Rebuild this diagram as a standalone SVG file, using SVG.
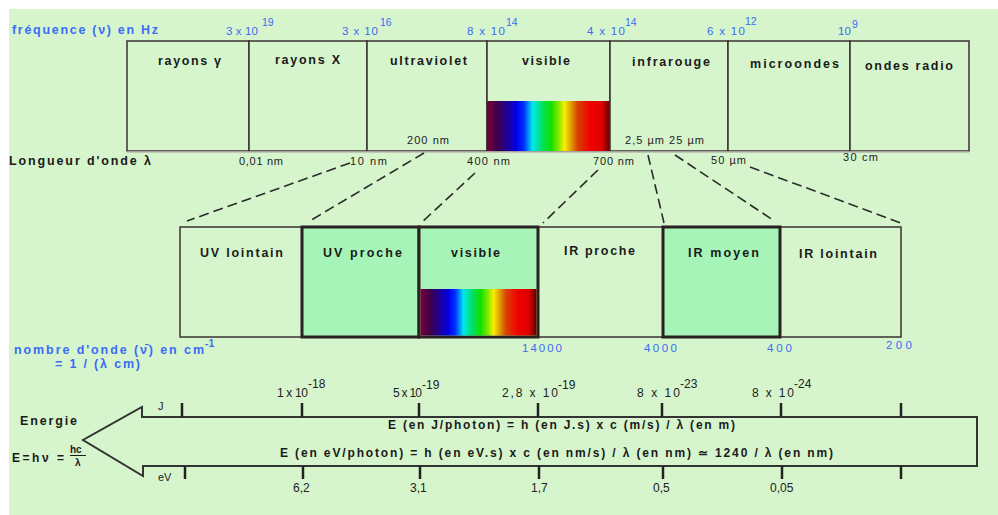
<svg xmlns="http://www.w3.org/2000/svg" width="998" height="515" viewBox="0 0 998 515">
  <defs>
    <linearGradient id="spectrum" x1="0" y1="0" x2="1" y2="0">
      <stop offset="0" stop-color="#7a0038"/>
      <stop offset="0.08" stop-color="#40004a"/>
      <stop offset="0.16" stop-color="#200090"/>
      <stop offset="0.24" stop-color="#0000e8"/>
      <stop offset="0.30" stop-color="#0030ff"/>
      <stop offset="0.37" stop-color="#00e8f0"/>
      <stop offset="0.45" stop-color="#00e060"/>
      <stop offset="0.52" stop-color="#10e000"/>
      <stop offset="0.58" stop-color="#80e800"/>
      <stop offset="0.63" stop-color="#f8f000"/>
      <stop offset="0.68" stop-color="#e0a000"/>
      <stop offset="0.74" stop-color="#d84000"/>
      <stop offset="0.84" stop-color="#f00000"/>
      <stop offset="0.93" stop-color="#e00000"/>
      <stop offset="1" stop-color="#600000"/>
    </linearGradient>
  </defs>
  <style>
    .band { fill: #d6f5cc; stroke: #3a3030; stroke-width: 1.5; }
    .sel { fill: #a6f4b8; stroke: #2a2222; stroke-width: 3; }
    .lbl { font-family: "Liberation Sans", Arial, sans-serif; font-weight: bold; font-size: 12.5px; fill: #1a1a1a; }
    .form { font-family: "Liberation Sans", Arial, sans-serif; font-weight: bold; font-size: 12px; fill: #1a1a1a; }
    .frac { font-family: "Liberation Sans", Arial, sans-serif; font-weight: bold; font-size: 10px; fill: #1a1a1a; }
    .blue { font-family: "Liberation Sans", Arial, sans-serif; font-size: 11.5px; fill: #3a6cf4; }
    .blueb { font-family: "Liberation Sans", Arial, sans-serif; font-weight: bold; font-size: 12.5px; fill: #3a6cf4; }
    .sup { font-size: 10.5px; }
    .sm { font-family: "Liberation Sans", Arial, sans-serif; font-size: 11px; fill: #222; }
    .en { font-family: "Liberation Sans", Arial, sans-serif; font-size: 12px; fill: #222; }
    .dash { fill: none; stroke: #2a2a2a; stroke-width: 1.6; stroke-dasharray: 10 5; }
    .tick { stroke: #222; stroke-width: 2.5; }
  </style>

  <!-- page background -->
  <rect x="0" y="0" width="998" height="515" fill="#ffffff"/>
  <rect x="9" y="9" width="989" height="506" fill="#d6f5cc"/>

  <!-- frequency axis -->
  <g id="frequency-axis">
    <text class="blueb" x="12" y="34" textLength="146" lengthAdjust="spacing">fréquence (ν) en Hz</text>
    <text class="blue" x="226" y="35" textLength="32" lengthAdjust="spacing">3 x 10</text>
    <text class="blue sup" x="262" y="26">19</text>
    <text class="blue" x="342" y="35" textLength="36" lengthAdjust="spacing">3 x 10</text>
    <text class="blue sup" x="380" y="26">16</text>
    <text class="blue" x="467" y="35" textLength="38" lengthAdjust="spacing">8 x 10</text>
    <text class="blue sup" x="506" y="26">14</text>
    <text class="blue" x="587" y="35" textLength="38" lengthAdjust="spacing">4 x 10</text>
    <text class="blue sup" x="625" y="26">14</text>
    <text class="blue" x="707" y="35" textLength="38" lengthAdjust="spacing">6 x 10</text>
    <text class="blue sup" x="745" y="25">12</text>
    <text class="blue" x="838" y="35">10</text>
    <text class="blue sup" x="852" y="28">9</text>
  </g>

  <!-- main spectrum bands -->
  <g id="band-gamma">
    <rect class="band" x="127" y="41" width="122" height="110"/>
    <text class="lbl" x="158" y="65" textLength="63" lengthAdjust="spacing">rayons γ</text>
  </g>
  <g id="band-x">
    <rect class="band" x="249" y="41" width="118" height="110"/>
    <text class="lbl" x="275" y="64" textLength="65" lengthAdjust="spacing">rayons X</text>
  </g>
  <g id="band-uv">
    <rect class="band" x="367" y="41" width="120" height="110"/>
    <text class="lbl" x="390" y="65" textLength="77" lengthAdjust="spacing">ultraviolet</text>
    <text class="sm" x="407" y="144" textLength="42" lengthAdjust="spacing">200 nm</text>
  </g>
  <g id="band-visible">
    <rect class="band" x="487" y="41" width="123" height="110"/>
    <rect x="487" y="101" width="123" height="50" fill="url(#spectrum)"/>
    <text class="lbl" x="522" y="65" textLength="48" lengthAdjust="spacing">visible</text>
  </g>
  <g id="band-ir">
    <rect class="band" x="610" y="41" width="118" height="110"/>
    <text class="lbl" x="632" y="66" textLength="78" lengthAdjust="spacing">infrarouge</text>
    <text class="sm" x="625" y="144" textLength="79" lengthAdjust="spacing">2,5 µm  25 µm</text>
  </g>
  <g id="band-micro">
    <rect class="band" x="728" y="41" width="122" height="110"/>
    <text class="lbl" x="750" y="68" textLength="89" lengthAdjust="spacing">microondes</text>
  </g>
  <g id="band-radio">
    <rect class="band" x="850" y="41" width="119" height="110"/>
    <text class="lbl" x="865" y="70" textLength="88" lengthAdjust="spacing">ondes radio</text>
  </g>
  <line x1="127" y1="152" x2="969" y2="152" stroke="#b8b8b0" stroke-width="1.5"/>

  <!-- wavelength axis -->
  <g id="wavelength-axis">
    <text class="lbl" x="9" y="165" textLength="142" lengthAdjust="spacing">Longueur d'onde λ</text>
    <text class="sm" x="239" y="165" textLength="44" lengthAdjust="spacing">0,01 nm</text>
    <text class="sm" x="350" y="165" textLength="37" lengthAdjust="spacing">10 nm</text>
    <text class="sm" x="467" y="165" textLength="43" lengthAdjust="spacing">400 nm</text>
    <text class="sm" x="593" y="165" textLength="41" lengthAdjust="spacing">700 nm</text>
    <text class="sm" x="711" y="164" textLength="35" lengthAdjust="spacing">50 µm</text>
    <text class="sm" x="843" y="161" textLength="35" lengthAdjust="spacing">30 cm</text>
  </g>

  <!-- zoom connectors -->
  <g id="connectors">
    <line class="dash" x1="350" y1="163" x2="187" y2="221"/>
    <line class="dash" x1="424" y1="153" x2="308" y2="222"/>
    <line class="dash" x1="475" y1="173" x2="421" y2="223"/>
    <line class="dash" x1="598" y1="170" x2="543" y2="223"/>
    <line class="dash" x1="648" y1="155" x2="664" y2="223"/>
    <line class="dash" x1="675" y1="155" x2="773" y2="220"/>
    <line class="dash" x1="750" y1="167" x2="901" y2="223"/>
  </g>

  <!-- detailed UV / visible / IR bands -->
  <g id="sub-uv-far">
    <rect class="band" x="180" y="227" width="122" height="110"/>
    <text class="lbl" x="200" y="257" textLength="83" lengthAdjust="spacing">UV lointain</text>
  </g>
  <g id="sub-ir-near">
    <rect class="band" x="538" y="227" width="125" height="110"/>
    <text class="lbl" x="564" y="255" textLength="71" lengthAdjust="spacing">IR proche</text>
  </g>
  <g id="sub-ir-far">
    <rect class="band" x="780" y="227" width="121" height="110"/>
    <text class="lbl" x="799" y="258" textLength="78" lengthAdjust="spacing">IR lointain</text>
  </g>
  <g id="sub-uv-near">
    <rect class="sel" x="302" y="227" width="117" height="110"/>
    <text class="lbl" x="323" y="257" textLength="79" lengthAdjust="spacing">UV proche</text>
  </g>
  <g id="sub-visible">
    <rect class="sel" x="419" y="227" width="119" height="110"/>
    <rect x="420.5" y="289" width="116" height="46.5" fill="url(#spectrum)"/>
    <text class="lbl" x="451" y="257" textLength="49" lengthAdjust="spacing">visible</text>
  </g>
  <g id="sub-ir-mid">
    <rect class="sel" x="663" y="227" width="117" height="110"/>
    <text class="lbl" x="688" y="257" textLength="71" lengthAdjust="spacing">IR moyen</text>
  </g>

  <!-- wavenumber axis -->
  <g id="wavenumber-axis">
    <text class="blueb" x="14" y="354" textLength="190" lengthAdjust="spacing">nombre d'onde (ν̄) en cm</text>
    <text class="blueb sup" x="205" y="347">-1</text>
    <text class="blueb" x="55" y="368" textLength="85" lengthAdjust="spacing">= 1 / (λ cm)</text>
    <text class="blue" x="522" y="352" textLength="40" lengthAdjust="spacing">14000</text>
    <text class="blue" x="644" y="352" textLength="33" lengthAdjust="spacing">4000</text>
    <text class="blue" x="767" y="352" textLength="25" lengthAdjust="spacing">400</text>
    <text class="blue" x="886" y="349" textLength="26" lengthAdjust="spacing">200</text>
  </g>

  <!-- energy arrow -->
  <g id="energy-arrow">
    <polygon points="142,417 977,417 977,466 143,466 143,476 83,440 142,407" fill="none" stroke="#333" stroke-width="2"/>
    <text class="form" x="388" y="429" textLength="347" lengthAdjust="spacing">E (en J/photon) = h (en J.s)  x  c (m/s) / λ (en m)</text>
    <text class="form" x="280" y="457" textLength="553" lengthAdjust="spacing">E (en eV/photon) = h (en eV.s)  x  c (en nm/s) / λ  (en nm)   ≃ 1240 / λ (en nm)</text>
  </g>

  <!-- energy scale -->
  <g id="energy-scale">
    <text class="lbl" x="20" y="425" textLength="57" lengthAdjust="spacing">Energie</text>
    <text class="form" x="12" y="462" textLength="52" lengthAdjust="spacing">E=hν =</text>
    <text class="frac" x="70" y="453">hc</text>
    <line x1="70" y1="455.5" x2="86" y2="455.5" stroke="#1a1a1a" stroke-width="1"/>
    <text class="frac" x="75" y="466">λ</text>

    <text class="sm" x="158" y="410">J</text>
    <text class="sm" x="158" y="481">eV</text>

    <g class="tick">
      <line x1="182" y1="403" x2="182" y2="417"/>
      <line x1="302" y1="403" x2="302" y2="417"/>
      <line x1="419" y1="403" x2="419" y2="417"/>
      <line x1="538" y1="403" x2="538" y2="417"/>
      <line x1="662" y1="403" x2="662" y2="417"/>
      <line x1="781" y1="403" x2="781" y2="417"/>
      <line x1="901" y1="403" x2="901" y2="417"/>
      <line x1="185" y1="466" x2="185" y2="479"/>
      <line x1="303" y1="466" x2="303" y2="479"/>
      <line x1="420" y1="466" x2="420" y2="479"/>
      <line x1="539" y1="466" x2="539" y2="479"/>
      <line x1="663" y1="466" x2="663" y2="479"/>
      <line x1="782" y1="466" x2="782" y2="479"/>
      <line x1="901" y1="466" x2="901" y2="479"/>
    </g>

    <text class="en" x="277" y="397" textLength="31" lengthAdjust="spacing">1 x 10</text>
    <text class="en sup" x="308" y="388">-18</text>
    <text class="en" x="393" y="397" textLength="29" lengthAdjust="spacing">5 x 10</text>
    <text class="en sup" x="422" y="389">-19</text>
    <text class="en" x="502" y="397" textLength="56" lengthAdjust="spacing">2,8 x 10</text>
    <text class="en sup" x="558" y="389">-19</text>
    <text class="en" x="637" y="397" textLength="43" lengthAdjust="spacing">8 x 10</text>
    <text class="en sup" x="680" y="388">-23</text>
    <text class="en" x="752" y="397" textLength="42" lengthAdjust="spacing">8 x 10</text>
    <text class="en sup" x="794" y="388">-24</text>

    <text class="en" x="293" y="492">6,2</text>
    <text class="en" x="410" y="492">3,1</text>
    <text class="en" x="531" y="492">1,7</text>
    <text class="en" x="653" y="492">0,5</text>
    <text class="en" x="770" y="492">0,05</text>
  </g>
</svg>
